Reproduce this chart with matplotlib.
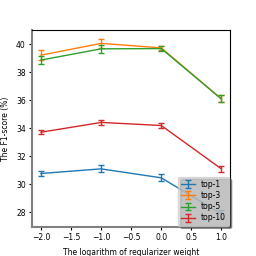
import matplotlib
matplotlib.use("Agg")
from matplotlib import pyplot as plt

x = [-2.0, -1.0, 0.0, 1.0]
top1 = [30.77, 31.1, 30.46, 27.88]
top3 = [39.23, 40.07, 39.75, 36.1]
top5 = [38.88, 39.68, 39.7, 36.1]
top10 = [33.72, 34.42, 34.2, 31.1]
err1 = [0.2, 0.25, 0.25, 0.3]
err3 = [0.36, 0.32, 0.15, 0.25]
err5 = [0.27, 0.3, 0.2, 0.25]
err10 = [0.15, 0.15, 0.15, 0.2]

plt.rcParams['font.size'] = 5.5
fig, ax = plt.subplots(figsize=(2.56, 2.56), dpi=100)
for ys, es, lab in [(top1, err1, 'top-1'), (top3, err3, 'top-3'),
                    (top5, err5, 'top-5'), (top10, err10, 'top-10')]:
    ax.errorbar(x, ys, yerr=es, capsize=2, linewidth=1, elinewidth=1, label=lab)

ax.set_xticks([-2.0, -1.5, -1.0, -0.5, 0.0, 0.5, 1.0])
ax.set_yticks([28, 30, 32, 34, 36, 38, 40])
ax.set_xlabel('The logarithm of regularizer weight')
ax.set_ylabel('The F1-score (%)')
for s in ['left', 'bottom']:
    ax.spines[s].set_color('gray')
    ax.spines[s].set_linewidth(1.5)
ax.tick_params(length=2.5, pad=2)
leg = ax.legend(loc='lower right', facecolor='lightgray', shadow=True,
                framealpha=0.7, borderaxespad=0.2, labelspacing=0.3,
                handlelength=1.8)

fig.subplots_adjust(left=0.125, right=0.9, top=0.883, bottom=0.113)
plt.savefig('out.png')
